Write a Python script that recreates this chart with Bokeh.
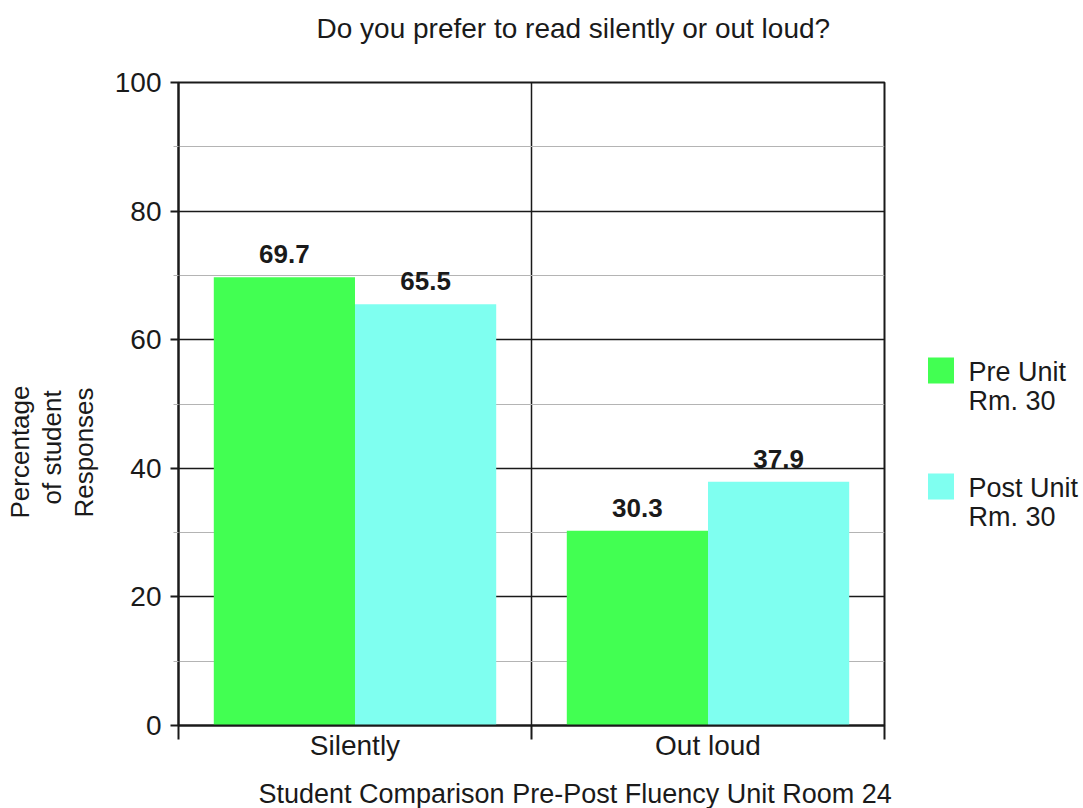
from bokeh.plotting import figure
from bokeh.layouts import row
from bokeh.models import Range1d, FixedTicker, Title, ColumnDataSource
from bokeh.transform import dodge
from bokeh.core.properties import value
from bokeh.embed import file_html
from bokeh.resources import INLINE

# ---- data -------------------------------------------------------------
categories = ["Silently", "Out loud"]
series_names = ["Pre Unit\nRm. 30", "Post Unit\nRm. 30"]
pre_unit = [69.7, 30.3]
post_unit = [65.5, 37.9]
y_ticks = [0, 20, 40, 60, 80, 100]
y_minor_ticks = [10, 30, 50, 70, 90]

chart_title = "Do you prefer to read silently or out loud?"
x_title = "Student Comparison Pre-Post Fluency Unit Room 24"
y_title_lines = ["Percentage", "of student", "Responses"]

# ---- style ------------------------------------------------------------
FONT = "Liberation Sans"
GREEN = "#42ff52"
CYAN = "#7ffff0"
SERIES_COLORS = [GREEN, CYAN]
INK = "#1a1a1a"
MINOR_GRAY = "#b4b4b4"
BAR_W = 0.4

MAIN_W, LEG_W, H = 900, 183, 808
FRAME_TOP, FRAME_BOTTOM = 82, 725

n = len(categories)
centers = [i + 0.5 for i in range(n)]
boundaries = list(range(n + 1))

src = ColumnDataSource(dict(
    center=centers,
    pre=pre_unit,
    post=post_unit,
    pre_lbl=[f"{v:.1f}" for v in pre_unit],
    post_lbl=[f"{v:.1f}" for v in post_unit],
))


def spacer(size):
    """Blank title used only to open a gap in a side panel."""
    return Title(text=" ", text_font=FONT, text_font_size=size, standoff=0)


# ---- main chart -------------------------------------------------------
p = figure(width=MAIN_W, height=H,
           x_range=Range1d(0, n), y_range=Range1d(y_ticks[0], y_ticks[-1]),
           output_backend="svg", toolbar_location=None,
           min_border_left=178, min_border_right=MAIN_W - 884,
           min_border_top=FRAME_TOP, min_border_bottom=H - FRAME_BOTTOM)
p.background_fill_color = "white"
p.border_fill_color = "white"
p.outline_line_color = INK
p.outline_line_width = 2

p.vbar(x=dodge("center", -BAR_W / 2), top="pre", width=BAR_W, source=src,
       fill_color=GREEN, line_color=None)
p.vbar(x=dodge("center", BAR_W / 2), top="post", width=BAR_W, source=src,
       fill_color=CYAN, line_color=None)

# value labels above the bars
for col, lbl, off in (("pre", "pre_lbl", -BAR_W / 2), ("post", "post_lbl", BAR_W / 2)):
    p.text(x=dodge("center", off), y=col, text=lbl, source=src,
           text_align="center", text_baseline="alphabetic", y_offset=-23,
           text_font=value(FONT), text_font_style="bold",
           text_font_size="26px", text_color=INK)

# y axis and horizontal grid
y_ticker = FixedTicker(ticks=y_ticks, minor_ticks=y_minor_ticks)
p.yaxis.ticker = y_ticker
p.ygrid.ticker = y_ticker
p.yaxis.axis_line_color = INK
p.yaxis.axis_line_width = 2
p.yaxis.major_tick_line_color = INK
p.yaxis.major_tick_line_width = 2
p.yaxis.major_tick_in = 0
p.yaxis.major_tick_out = 8
p.yaxis.minor_tick_line_color = MINOR_GRAY
p.yaxis.minor_tick_in = 0
p.yaxis.minor_tick_out = 5
p.yaxis.major_label_standoff = 9
p.yaxis.major_label_text_font = FONT
p.yaxis.major_label_text_font_size = "28px"
p.yaxis.major_label_text_color = INK
p.ygrid.grid_line_color = INK
p.ygrid.grid_line_width = 1.5
p.ygrid.minor_grid_line_color = MINOR_GRAY
p.ygrid.minor_grid_line_width = 1

# x axis: labels at category centres, tick marks at category boundaries
p.xaxis.ticker = FixedTicker(ticks=centers, minor_ticks=boundaries)
p.xaxis.major_label_overrides = {c: name for c, name in zip(centers, categories)}
p.xaxis.axis_line_color = INK
p.xaxis.axis_line_width = 2
p.xaxis.major_tick_line_color = None
p.xaxis.major_tick_in = 0
p.xaxis.major_tick_out = 0
p.xaxis.minor_tick_line_color = INK
p.xaxis.minor_tick_line_width = 2
p.xaxis.minor_tick_in = 0
p.xaxis.minor_tick_out = 14
p.xaxis.major_label_standoff = -10
p.xaxis.major_label_text_font = FONT
p.xaxis.major_label_text_font_size = "28px"
p.xaxis.major_label_text_color = INK
p.xgrid.ticker = FixedTicker(ticks=boundaries[1:-1])
p.xgrid.grid_line_color = INK
p.xgrid.grid_line_width = 1.5

# chart title, lifted clear of the frame by a blank panel
p.add_layout(spacer("33px"), "above")
p.title.text = chart_title
p.title.align = "left"
p.title.offset = 138
p.title.standoff = 0
p.title.text_font = FONT
p.title.text_font_size = "28px"
p.title.text_font_style = "normal"
p.title.text_color = INK

# x axis title, set a little below the category labels
p.add_layout(spacer("10px"), "below")
p.add_layout(Title(text=x_title, align="left", offset=80, standoff=0,
                   text_font=FONT, text_font_size="27px",
                   text_font_style="normal", text_color=INK), "below")

# three-line y axis title, one panel per line (innermost first)
p.add_layout(spacer("10px"), "left")
for line, offset in zip(reversed(y_title_lines), (208, 221, 207)):
    p.add_layout(Title(text=line, align="left", offset=offset, standoff=0,
                       text_font=FONT, text_font_size="26px",
                       text_font_style="normal", text_color=INK), "left")

# ---- legend panel (canvas-pixel coordinates inside the aligned frame) ---
leg = figure(width=LEG_W, height=H,
             x_range=Range1d(0, LEG_W), y_range=Range1d(FRAME_BOTTOM, FRAME_TOP),
             output_backend="svg", toolbar_location=None,
             x_axis_location=None, y_axis_location=None,
             min_border=0)
leg.grid.visible = False
leg.outline_line_color = None
leg.background_fill_color = "white"
leg.border_fill_color = "white"

swatch_y = [370, 486]
line_pitch = 29
leg.rect(x=[40.5] * len(series_names), y=swatch_y, width=26, height=26,
         fill_color=SERIES_COLORS, line_color=None)
text_x, text_y, text_s = [], [], []
for name, y0 in zip(series_names, swatch_y):
    for k, part in enumerate(name.split("\n")):
        text_x.append(68)
        text_y.append(y0 + 1 + k * line_pitch)
        text_s.append(part)
leg.text(x=text_x, y=text_y, text=text_s, text_align="left",
         text_baseline="middle", text_font=value(FONT),
         text_font_size="27px", text_color=INK)

layout = row(p, leg, spacing=0)
open("out.html", "w").write(file_html(layout, INLINE))
